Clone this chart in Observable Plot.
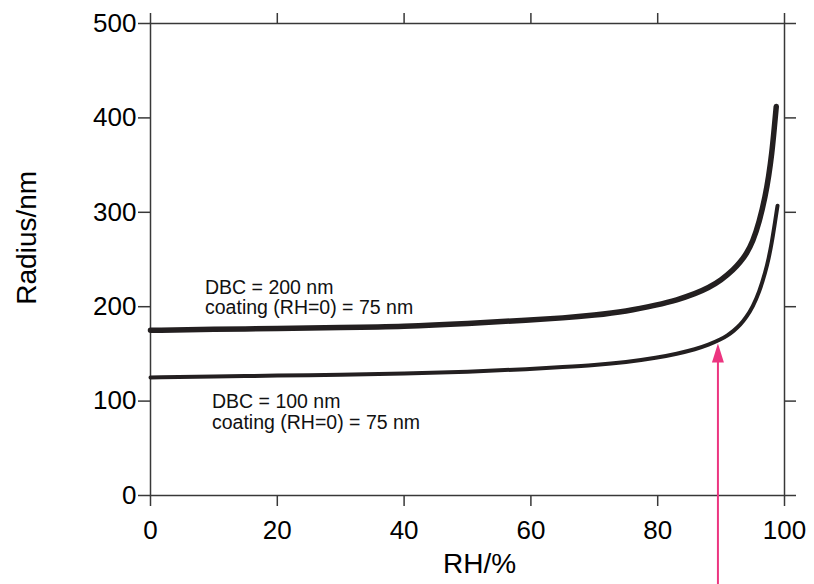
<!DOCTYPE html>
<html>
<head>
<meta charset="utf-8">
<script src="https://cdn.jsdelivr.net/npm/d3@7"></script>
<script src="https://cdn.jsdelivr.net/npm/@observablehq/plot@0.6"></script>
<style>
  html, body { margin: 0; padding: 0; background: #fff; }
  #chart svg { display: block; }
</style>
</head>
<body>
<div id="chart"></div>
<script>
// RH (%) sample points and radius (nm) for the two particles
const rhUpper = [0, 10, 20, 30, 40, 50, 60, 65, 70, 75, 80, 83, 86, 88, 90, 92, 93, 94, 95, 96, 97, 97.5, 98, 98.4, 98.7];
const radiusUpper = [175, 176, 177, 178, 179, 182, 186, 188, 191, 195, 202, 207, 214, 220, 228, 239.5, 247, 256, 269, 289, 318, 338, 362, 390, 412];
const rhLower = [0, 10, 20, 30, 40, 50, 60, 65, 70, 75, 80, 83, 86, 88, 90, 91, 92, 93, 94, 95, 96, 97, 97.5, 98, 98.4, 98.9];
const radiusLower = [125, 126, 127, 128, 129, 131, 134, 136, 138, 141, 146, 150, 155, 159.5, 165.5, 169.5, 174.5, 180.5, 189, 200, 215, 237, 251, 268, 285, 307];

const xTicks = [0, 20, 40, 60, 80, 100];
const yTicks = [0, 100, 200, 300, 400, 500];
const xLabel = "RH/%";
const yLabel = "Radius/nm";
const labelUpper = "DBC = 200 nm\ncoating (RH=0) = 75 nm";
const labelLower = "DBC = 100 nm\ncoating (RH=0) = 75 nm";
const arrowRH = 89.5;
const arrowRadius = 161;

const upper = rhUpper.map((x, i) => ({x, y: radiusUpper[i]}));
const lower = rhLower.map((x, i) => ({x, y: radiusLower[i]}));

const axisColor = "#383838";
const pink = "#ec3580";
const font = "'Liberation Sans', Arial, Helvetica, sans-serif";

const triangle = {
  draw(context, l) {
    context.moveTo(-6, 0);
    context.lineTo(0, -l);
    context.lineTo(6, 0);
    context.closePath();
  }
};

const chart = Plot.plot({
  width: 814,
  height: 584,
  marginLeft: 150,
  marginRight: 30,
  marginTop: 23,
  marginBottom: 89,
  style: {fontFamily: font, background: "#fff", color: "#000"},
  x: {domain: [0, 100]},
  y: {domain: [0, 500]},
  marks: [
    Plot.frame({stroke: axisColor, strokeWidth: 1.5}),
    Plot.axisY({ticks: yTicks, tickSize: 12, tickPadding: 2, fontSize: 26, label: null, stroke: axisColor, strokeWidth: 1.5, fill: "#000"}),
    Plot.axisY({anchor: "right", ticks: yTicks, tickSize: 11, tickFormat: () => "", label: null, stroke: axisColor, strokeWidth: 1.5}),
    Plot.axisX({ticks: xTicks, tickSize: 11, tickPadding: 14, fontSize: 26, label: null, stroke: axisColor, strokeWidth: 1.5, fill: "#000"}),
    Plot.axisX({anchor: "top", ticks: xTicks, tickSize: 11, tickFormat: () => "", label: null, stroke: axisColor, strokeWidth: 1.5}),
    Plot.line(upper, {x: "x", y: "y", stroke: "#231f20", strokeWidth: 5.5, curve: "basis"}),
    Plot.line(lower, {x: "x", y: "y", stroke: "#231f20", strokeWidth: 4, curve: "basis"}),
    Plot.text([labelUpper], {x: 8.6, y: 229, text: d => d, textAnchor: "start", lineAnchor: "top", lineHeight: 1.05, fontSize: 19.5, fill: "#111"}),
    Plot.text([labelLower], {x: 9.7, y: 108, text: d => d, textAnchor: "start", lineAnchor: "top", lineHeight: 1.05, fontSize: 19.5, fill: "#111"}),
    Plot.ruleX([arrowRH], {x: d => d, y1: -110, y2: arrowRadius - 10, stroke: pink, strokeWidth: 2, clip: false}),
    Plot.vector([arrowRH], {x: d => d, y: arrowRadius, length: 19, anchor: "end", shape: triangle, fill: pink, stroke: "none"}),
    Plot.text([xLabel], {text: d => d, frameAnchor: "bottom", textAnchor: "middle", dx: 12, dy: 77, fontSize: 28, fill: "#000"}),
    Plot.text([yLabel], {text: d => d, y: 273, frameAnchor: "left", textAnchor: "middle", dx: -123, rotate: -90, fontSize: 28, fill: "#000"})
  ]
});
document.getElementById("chart").appendChild(chart);
</script>
</body>
</html>
